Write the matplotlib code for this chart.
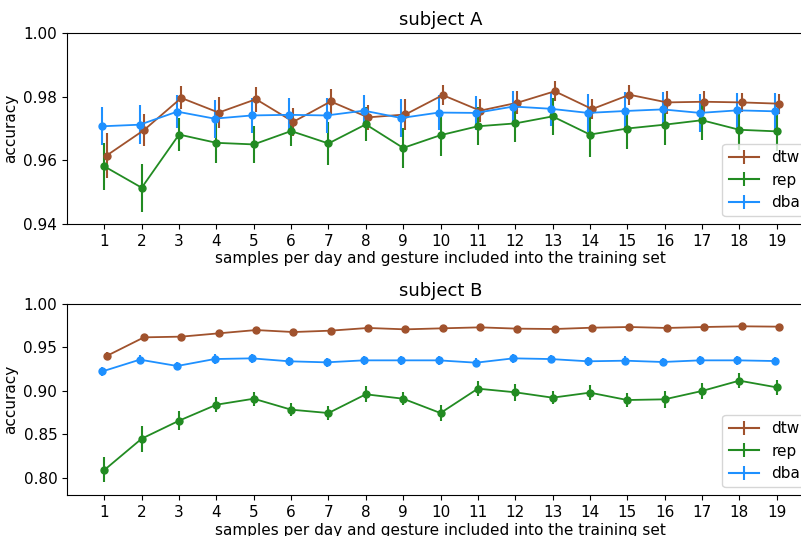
import matplotlib
matplotlib.use("Agg")
import matplotlib.pyplot as plt
from matplotlib.lines import Line2D
import numpy as np

samples = list(range(1, 20))
methods = ["dtw", "rep", "dba"]
colors = {"dtw": "sienna", "rep": "forestgreen", "dba": "dodgerblue"}
dodge = {"dtw": 0.06, "rep": 0.0, "dba": -0.05}

# subject A: mean accuracy and error half-widths
a_dtw = [0.9615, 0.9695, 0.9796, 0.9750, 0.9792, 0.9721, 0.9785, 0.9735, 0.9744, 0.9805,
         0.9756, 0.9781, 0.9817, 0.9761, 0.9806, 0.9782, 0.9784, 0.9782, 0.9778]
a_dtw_err = [0.0072, 0.0050, 0.0036, 0.0048, 0.0039, 0.0043, 0.0040, 0.0039, 0.0050, 0.0031,
             0.0037, 0.0037, 0.0032, 0.0032, 0.0031, 0.0035, 0.0035, 0.0031, 0.0031]
a_rep = [0.9581, 0.9514, 0.9681, 0.9655, 0.9650, 0.9692, 0.9653, 0.9713, 0.9639, 0.9679,
         0.9707, 0.9716, 0.9738, 0.9681, 0.9700, 0.9712, 0.9726, 0.9696, 0.9691]
a_rep_err = [0.0075, 0.0075, 0.0052, 0.0062, 0.0058, 0.0046, 0.0068, 0.0053, 0.0064, 0.0064,
             0.0060, 0.0058, 0.0057, 0.0069, 0.0063, 0.0063, 0.0062, 0.0062, 0.0063]
a_dba = [0.9707, 0.9712, 0.9753, 0.9731, 0.9741, 0.9743, 0.9741, 0.9756, 0.9733, 0.9750,
         0.9749, 0.9769, 0.9762, 0.9749, 0.9755, 0.9760, 0.9749, 0.9757, 0.9754]
a_dba_err = [0.0059, 0.0061, 0.0052, 0.0060, 0.0055, 0.0054, 0.0055, 0.0050, 0.0060, 0.0055,
             0.0053, 0.0050, 0.0054, 0.0059, 0.0060, 0.0055, 0.0060, 0.0056, 0.0058]

# subject B
b_dtw = [0.9401, 0.9616, 0.9624, 0.9662, 0.9700, 0.9677, 0.9693, 0.9724, 0.9708, 0.9720,
         0.9731, 0.9716, 0.9712, 0.9727, 0.9735, 0.9724, 0.9735, 0.9743, 0.9739]
b_dtw_err = [0.0045, 0.0020, 0.0020, 0.0020, 0.0018, 0.0018, 0.0018, 0.0018, 0.0018, 0.0018,
             0.0016, 0.0016, 0.0016, 0.0016, 0.0016, 0.0016, 0.0016, 0.0016, 0.0016]
b_rep = [0.8088, 0.8449, 0.8656, 0.8840, 0.8909, 0.8783, 0.8744, 0.8960, 0.8909, 0.8744,
         0.9025, 0.8983, 0.8921, 0.8979, 0.8894, 0.8902, 0.8998, 0.9117, 0.9040]
b_rep_err = [0.0144, 0.0148, 0.0110, 0.0088, 0.0083, 0.0073, 0.0080, 0.0092, 0.0077, 0.0092,
             0.0083, 0.0098, 0.0077, 0.0090, 0.0086, 0.0096, 0.0092, 0.0086, 0.0086]
b_dba = [0.9224, 0.9359, 0.9286, 0.9366, 0.9374, 0.9340, 0.9328, 0.9351, 0.9351, 0.9351,
         0.9324, 0.9374, 0.9366, 0.9340, 0.9347, 0.9332, 0.9351, 0.9351, 0.9343]
b_dba_err = [0.0055, 0.0050, 0.0050, 0.0055, 0.0050, 0.0050, 0.0050, 0.0050, 0.0050, 0.0050,
             0.0050, 0.0055, 0.0050, 0.0050, 0.0050, 0.0050, 0.0050, 0.0050, 0.0050]

subjects = {
    "subject A": {"dtw": (a_dtw, a_dtw_err), "rep": (a_rep, a_rep_err), "dba": (a_dba, a_dba_err)},
    "subject B": {"dtw": (b_dtw, b_dtw_err), "rep": (b_rep, b_rep_err), "dba": (b_dba, b_dba_err)},
}
ylims = {"subject A": (0.94, 1.00), "subject B": (0.78, 1.00)}
yticks = {"subject A": [0.94, 0.96, 0.98, 1.00],
          "subject B": [0.80, 0.85, 0.90, 0.95, 1.00]}

W, H = 801, 536
fig = plt.figure(figsize=(W / 100, H / 100), dpi=100)

# axes boxes in pixels: left, top, right, bottom (right side runs past the figure edge)
boxes = {"subject A": (67, 33, 814, 224), "subject B": (67, 304, 814, 495)}

# legend proxies: plain line crossed by a vertical error bar, no point marker
handles = [Line2D([], [], color=colors[m], lw=1.5, marker="|", markersize=10,
                  markeredgewidth=1.5, label=m) for m in methods]

for name, series in subjects.items():
    l, t, r, b = boxes[name]
    ax = fig.add_axes([l / W, 1 - b / H, (r - l) / W, (b - t) / H])
    x = np.array(samples, dtype=float)
    for m in methods:
        vals, err = series[m]
        ax.errorbar(x + dodge[m], vals, yerr=err, color=colors[m], marker="o",
                    markersize=5, lw=1.3, elinewidth=1.5, capsize=0)
    ax.set_xlim(0, 20)
    ax.set_ylim(*ylims[name])
    ax.set_xticks(samples)
    ax.set_yticks(yticks[name])
    ax.set_yticklabels([f"{v:.2f}" for v in yticks[name]])
    ax.tick_params(labelsize=11)
    ax.set_title(name, fontsize=13)
    ax.set_xlabel("samples per day and gesture included into the training set", fontsize=11, labelpad=2)
    ax.set_ylabel("accuracy", fontsize=11)
    ax.legend(handles=handles, loc="lower right", fontsize=11)

fig.savefig("out.png", dpi=100)
